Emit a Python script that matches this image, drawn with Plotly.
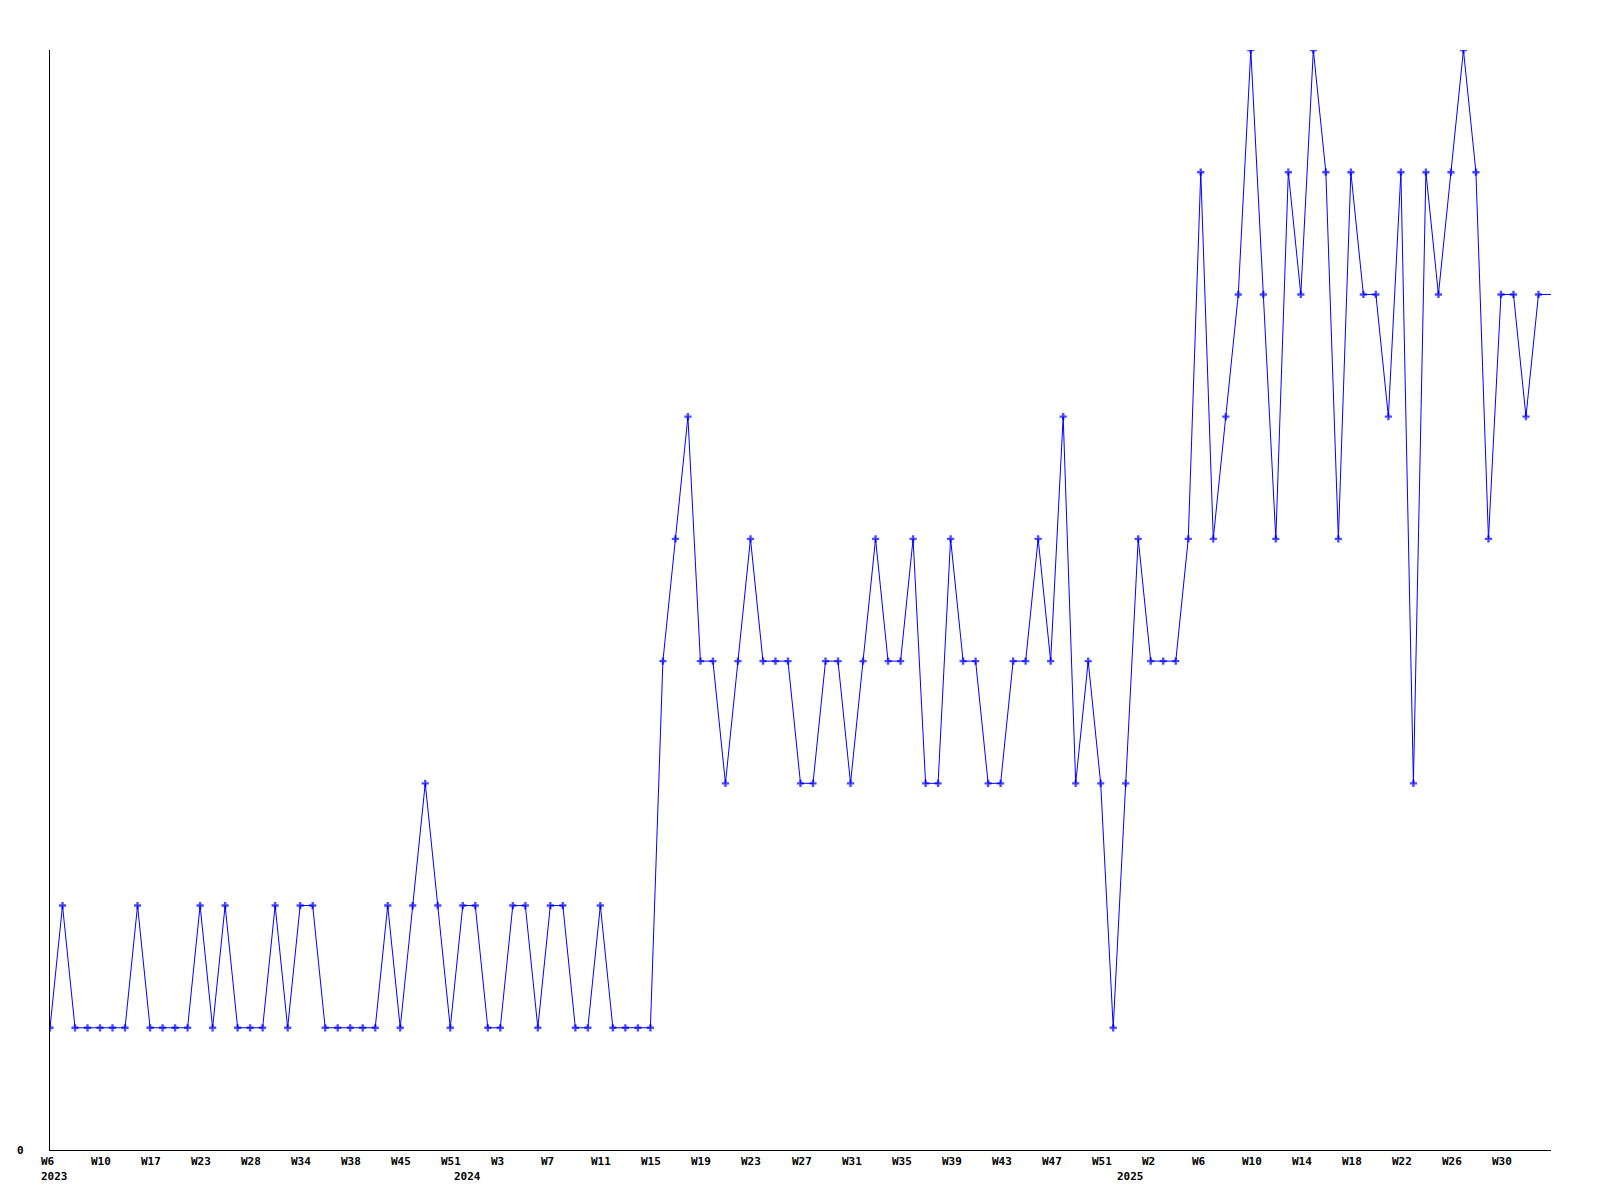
import plotly.graph_objects as go

# Weekly values (one point per week, evenly spaced as categories)
values = [1, 2, 1, 1, 1, 1, 1, 2, 1, 1,
          1, 1, 2, 1, 2, 1, 1, 1, 2, 1,
          2, 2, 1, 1, 1, 1, 1, 2, 1, 2,
          3, 2, 1, 2, 2, 1, 1, 2, 2, 1,
          2, 2, 1, 1, 2, 1, 1, 1, 1, 4,
          5, 6, 4, 4, 3, 4, 5, 4, 4, 4,
          3, 3, 4, 4, 3, 4, 5, 4, 4, 5,
          3, 3, 5, 4, 4, 3, 3, 4, 4, 5,
          4, 6, 3, 4, 3, 1, 3, 5, 4, 4,
          4, 5, 8, 5, 6, 7, 9, 7, 5, 8,
          7, 9, 8, 5, 8, 7, 7, 6, 8, 3,
          8, 7, 8, 9, 8, 5, 7, 7, 6, 7,
          7]

# Tick labels, one every 4 points
week_ticks = ["W6", "W10", "W17", "W23", "W28", "W34", "W38", "W45", "W51",
              "W3", "W7", "W11", "W15", "W19", "W23", "W27", "W31", "W35",
              "W39", "W43", "W47", "W51", "W2", "W6", "W10", "W14", "W18",
              "W22", "W26", "W30"]
tick_step = 4

# Year labels and the point index where each is placed
years = ["2023", "2024", "2025"]
year_pos = [0, 33, 86]

x = list(range(len(values)))
marker_sizes = [6] * (len(values) - 1) + [0]

FONT = "DejaVu Sans Mono"

fig = go.Figure()
fig.add_trace(go.Scatter(
    x=x, y=values, mode="lines+markers",
    line=dict(color="#0000FF", width=1),
    marker=dict(symbol="cross", size=marker_sizes, color="#0000FF",
                line=dict(width=0)),
    hoverinfo="skip", showlegend=False, cliponaxis=True,
))

annotations = []
for i, lab in enumerate(week_ticks):
    annotations.append(dict(
        x=i * tick_step, xref="x", y=0, yref="paper",
        text="<b>" + lab + "</b>", showarrow=False,
        xanchor="left", yanchor="top", xshift=-11, yshift=-3,
        font=dict(family=FONT, size=11, color="black"),
    ))
for yr, p in zip(years, year_pos):
    annotations.append(dict(
        x=p, xref="x", y=0, yref="paper",
        text="<b>" + yr + "</b>", showarrow=False,
        xanchor="left", yanchor="top", xshift=-11, yshift=-18,
        font=dict(family=FONT, size=11, color="black"),
    ))
annotations.append(dict(
    x=0, xref="paper", y=0, yref="y", text="<b>0</b>", showarrow=False,
    xanchor="right", yanchor="middle", xshift=-24,
    font=dict(family=FONT, size=11, color="black"),
))

fig.update_layout(
    width=1600, height=1200,
    margin=dict(l=42, r=57, t=42, b=58),
    paper_bgcolor="white", plot_bgcolor="white",
    annotations=annotations,
    xaxis=dict(range=[0, len(values) - 1], showgrid=False, zeroline=False,
               showline=True, linecolor="black", linewidth=1,
               showticklabels=False, ticks=""),
    yaxis=dict(range=[0, 9], showgrid=False, zeroline=False,
               showline=True, linecolor="black", linewidth=1,
               showticklabels=False, ticks=""),
)

fig.write_html("out.html")
